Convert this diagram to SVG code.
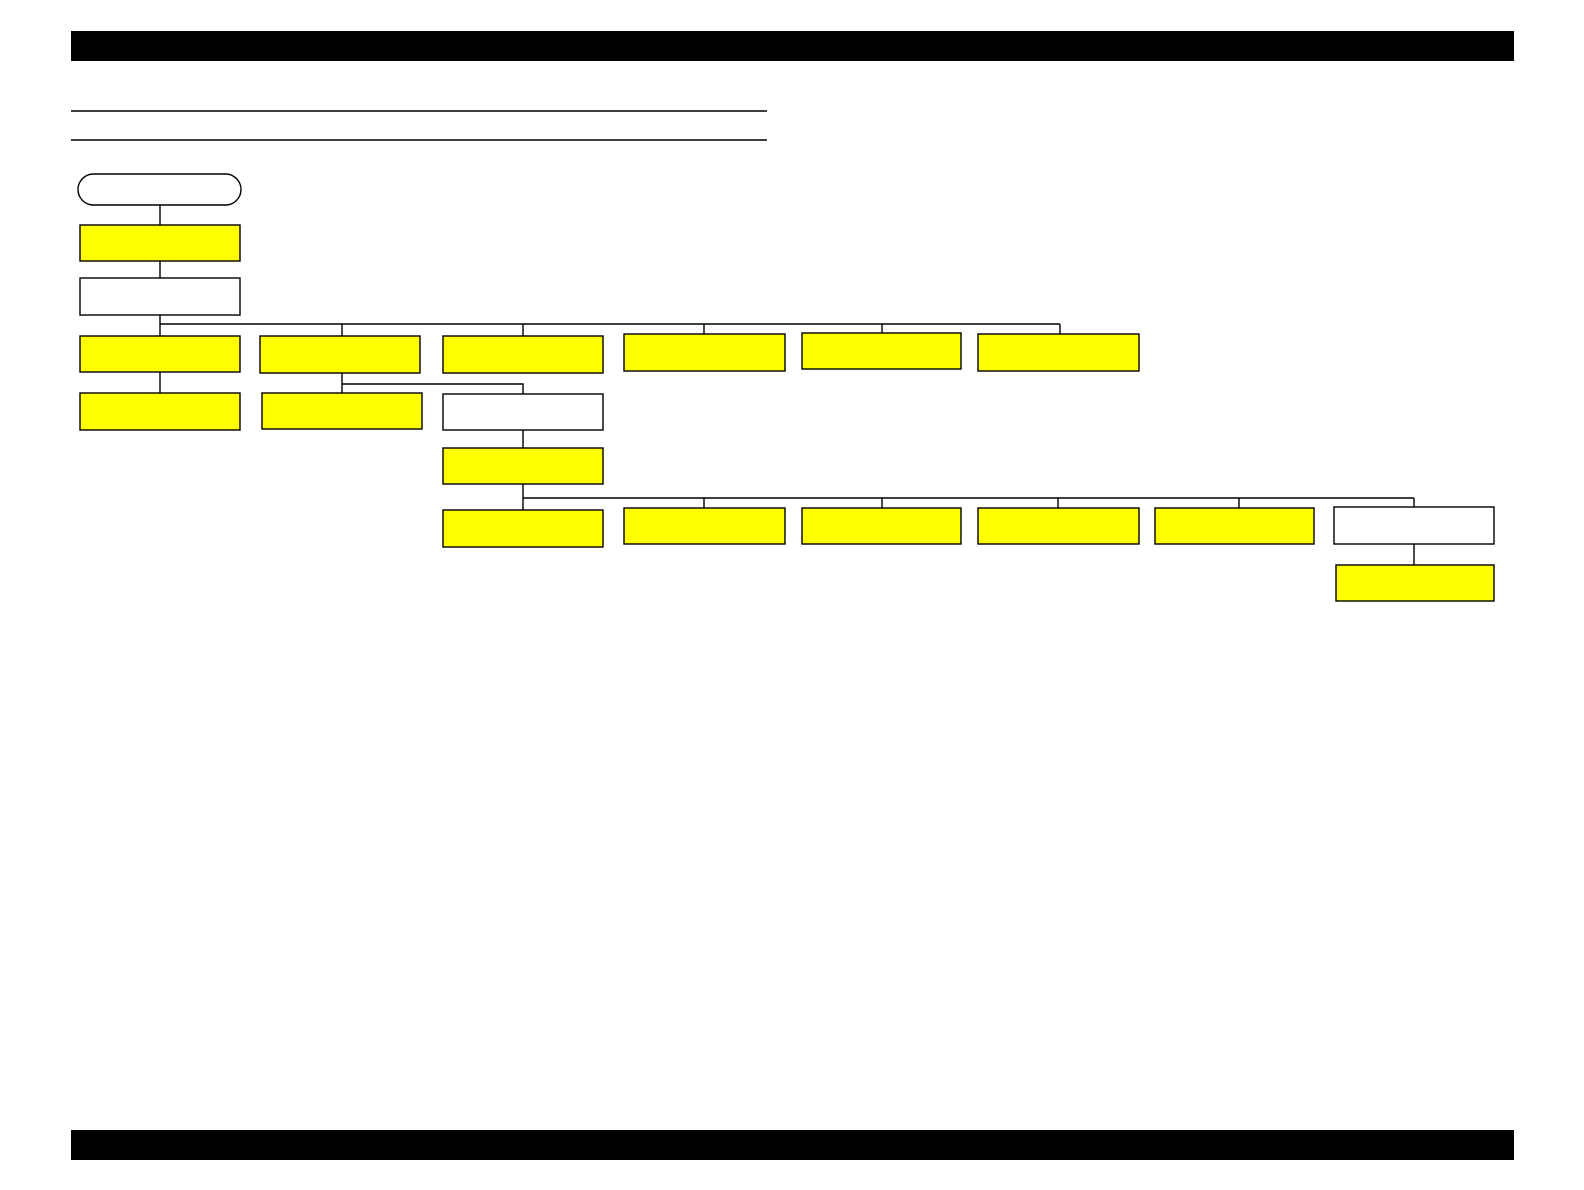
<svg xmlns="http://www.w3.org/2000/svg" width="1584" height="1190" viewBox="0 0 1584 1190">
<style>
.y{fill:#ffff00;stroke:#000;stroke-width:1.4}
.w{fill:#fff;stroke:#000;stroke-width:1.4}
.c{fill:none;stroke:#000;stroke-width:1.4}
.bar{fill:#000}
</style>
<rect width="1584" height="1190" fill="#fff"/>
<rect class="bar" x="71" y="31" width="1443" height="30"/>
<rect class="bar" x="71" y="1130" width="1443" height="30"/>
<line x1="71" y1="111" x2="767" y2="111" stroke="#000" stroke-width="1.4"/>
<line x1="71" y1="140" x2="767" y2="140" stroke="#000" stroke-width="1.4"/>
<g id="connectors">
<path class="c" d="M160 205V225M160 261V278M160 315V336"/>
<path class="c" d="M160 324H1060M342 324V336M523 324V336M704 324V334M882 324V333M1060 324V334"/>
<path class="c" d="M160 372V393"/>
<path class="c" d="M342 373V393M342 384H523V394"/>
<path class="c" d="M523 430V448M523 484V510"/>
<path class="c" d="M523 498H1414M704 498V508M882 498V508M1058 498V508M1239 498V508M1414 498V507"/>
<path class="c" d="M1414 544V565"/>
</g>
<g id="start"><rect class="w" x="78" y="174" width="163" height="31" rx="15.5"/></g>
<g id="n1"><rect class="y" x="80" y="225" width="160" height="36"/></g>
<g id="n2"><rect class="w" x="80" y="278" width="160" height="37"/></g>
<g id="a1"><rect class="y" x="80" y="336" width="160" height="36"/></g>
<g id="a2"><rect class="y" x="80" y="393" width="160" height="37"/></g>
<g id="b1"><rect class="y" x="260" y="336" width="160" height="37"/></g>
<g id="b2"><rect class="y" x="262" y="393" width="160" height="36"/></g>
<g id="c1"><rect class="y" x="443" y="336" width="160" height="37"/></g>
<g id="d1"><rect class="y" x="624" y="334" width="161" height="37"/></g>
<g id="e1"><rect class="y" x="802" y="333" width="159" height="36"/></g>
<g id="f1"><rect class="y" x="978" y="334" width="161" height="37"/></g>
<g id="c2"><rect class="w" x="443" y="394" width="160" height="36"/></g>
<g id="c3"><rect class="y" x="443" y="448" width="160" height="36"/></g>
<g id="c4"><rect class="y" x="443" y="510" width="160" height="37"/></g>
<g id="d4"><rect class="y" x="624" y="508" width="161" height="36"/></g>
<g id="e4"><rect class="y" x="802" y="508" width="159" height="36"/></g>
<g id="f4"><rect class="y" x="978" y="508" width="161" height="36"/></g>
<g id="g4"><rect class="y" x="1155" y="508" width="159" height="36"/></g>
<g id="h4"><rect class="w" x="1334" y="507" width="160" height="37"/></g>
<g id="h5"><rect class="y" x="1336" y="565" width="158" height="36"/></g>
</svg>
